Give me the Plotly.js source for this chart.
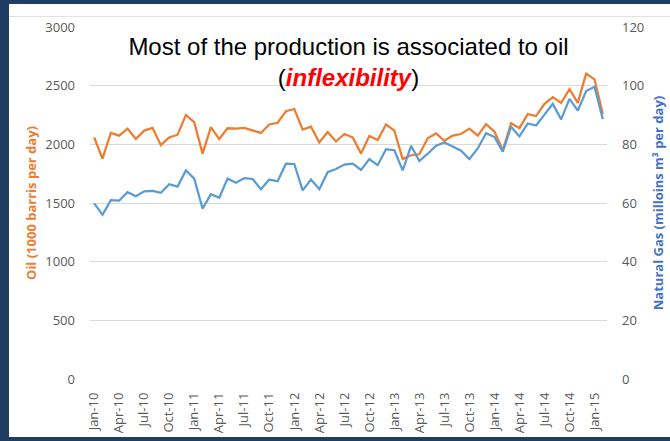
<!DOCTYPE html>
<html>
<head>
<meta charset="utf-8">
<script src="https://cdn.plot.ly/plotly-3.0.1.min.js"></script>
<style>
  html, body { margin: 0; padding: 0; background: #ffffff; }
  #wrap { position: relative; width: 670px; height: 441px; overflow: hidden; }
  #chart { position: absolute; left: 0; top: 0; width: 670px; height: 441px; }
  .bar { position: absolute; background: #1f3d63; }
  .thin { position: absolute; background: #e3e3e3; }
</style>
</head>
<body>
<div id="wrap">
  <div id="chart"></div>
  <div class="thin" style="left:9px;top:16px;width:661px;height:1px;"></div>
  <div class="bar" style="left:0;top:0;width:670px;height:4px;"></div>
  <div class="bar" style="left:0;top:0;width:9px;height:441px;"></div>
  <div class="bar" style="left:0;top:437px;width:670px;height:4px;"></div>
</div>
<script>
const months = [
  'Jan-10','Feb-10','Mar-10','Apr-10','May-10','Jun-10','Jul-10','Aug-10','Sep-10','Oct-10','Nov-10','Dec-10',
  'Jan-11','Feb-11','Mar-11','Apr-11','May-11','Jun-11','Jul-11','Aug-11','Sep-11','Oct-11','Nov-11','Dec-11',
  'Jan-12','Feb-12','Mar-12','Apr-12','May-12','Jun-12','Jul-12','Aug-12','Sep-12','Oct-12','Nov-12','Dec-12',
  'Jan-13','Feb-13','Mar-13','Apr-13','May-13','Jun-13','Jul-13','Aug-13','Sep-13','Oct-13','Nov-13','Dec-13',
  'Jan-14','Feb-14','Mar-14','Apr-14','May-14','Jun-14','Jul-14','Aug-14','Sep-14','Oct-14','Nov-14','Dec-14',
  'Jan-15','Feb-15'
];
const tickLabels = [
  'Jan-10','Apr-10','Jul-10','Oct-10','Jan-11','Apr-11','Jul-11','Oct-11','Jan-12','Apr-12','Jul-12','Oct-12',
  'Jan-13','Apr-13','Jul-13','Oct-13','Jan-14','Apr-14','Jul-14','Oct-14','Jan-15'
];
// Oil production (1000 barrels per day) - left axis
const oil = [
  2059, 1878, 2097, 2074, 2134, 2045, 2117, 2140, 1993, 2059, 2082, 2250,
  2189, 1921, 2146, 2045, 2137, 2134, 2140, 2117, 2097, 2169, 2184, 2282,
  2301, 2126, 2151, 2016, 2105, 2024, 2088, 2059, 1921, 2071, 2036, 2169,
  2117, 1874, 1907, 1915, 2051, 2094, 2030, 2074, 2088, 2134, 2074, 2172,
  2109, 1947, 2180, 2138, 2258, 2241, 2345, 2402, 2353, 2471, 2353, 2604,
  2554, 2258
];
// Natural gas production (million m3 per day) - right axis
const gas = [
  59.9, 56.0, 61.0, 60.8, 63.7, 62.3, 64.0, 64.1, 63.5, 66.4, 65.6, 71.1,
  68.3, 58.1, 63.0, 61.8, 68.3, 66.9, 68.5, 68.2, 64.7, 68.0, 67.4, 73.4,
  73.3, 64.3, 68.0, 64.7, 70.5, 71.6, 73.1, 73.4, 71.3, 75.0, 72.9, 78.3,
  78.0, 71.1, 79.5, 74.3, 76.8, 79.5, 80.6, 79.1, 77.8, 75.0, 78.6, 83.8,
  82.5, 77.5, 86.0, 82.7, 87.1, 86.4, 90.3, 93.8, 88.5, 95.5, 91.5, 98.2,
  99.6, 88.6
];

const tickFont = { family: 'Open Sans, sans-serif', size: 13, color: '#595959' };

const data = [
  { type: 'scatter', mode: 'lines', name: 'Oil', x: months, y: oil, yaxis: 'y',
    line: { color: '#ED7D31', width: 2.25 }, hoverinfo: 'x+y' },
  { type: 'scatter', mode: 'lines', name: 'Natural Gas', x: months, y: gas, yaxis: 'y2',
    line: { color: '#5B9BD5', width: 2.25 }, hoverinfo: 'x+y' }
];

const layout = {
  width: 670, height: 441,
  margin: { l: 90, r: 63, t: 27, b: 62, pad: 0 },
  paper_bgcolor: '#ffffff', plot_bgcolor: '#ffffff',
  showlegend: false,
  title: {
    text: 'Most of the production is associated to oil<br>(<b><i><span style="color:#FF0000">inflexibility</span></i></b>)',
    font: { family: 'Liberation Sans, Arial, sans-serif', size: 24, color: '#000000' },
    x: 0.5, xref: 'paper', xanchor: 'center',
    y: 0.876, yref: 'container', yanchor: 'top'
  },
  xaxis: {
    type: 'category', categoryorder: 'array', categoryarray: months,
    range: [-0.5, months.length - 0.5],
    tickmode: 'array', tickvals: tickLabels, ticktext: tickLabels,
    tickangle: -90, tickfont: tickFont, ticks: '', showgrid: false,
    showline: false, zeroline: false, ticklabelstandoff: 10, automargin: false
  },
  yaxis: {
    range: [0, 3000], dtick: 500, tickfont: tickFont, ticks: '',
    showgrid: true, gridcolor: '#d9d9d9', gridwidth: 1, zeroline: false, showline: false,
    ticklabelstandoff: 14, automargin: false,
    title: { text: '<b>Oil (1000 barris per day)</b>', standoff: 5,
      font: { family: 'Open Sans, sans-serif', size: 13, color: '#ED7D31' } }
  },
  yaxis2: {
    overlaying: 'y', side: 'right', range: [0, 120], dtick: 20, tickfont: tickFont, ticks: '',
    showgrid: false, zeroline: false, showline: false, ticklabelstandoff: 14, automargin: false,
    title: { text: '<b>Natural Gas (milloins m³ per day)</b>', standoff: 10,
      font: { family: 'Open Sans, sans-serif', size: 13, color: '#4472C4' } }
  }
};

Plotly.newPlot('chart', data, layout, { displayModeBar: false, staticPlot: true });
</script>
</body>
</html>
